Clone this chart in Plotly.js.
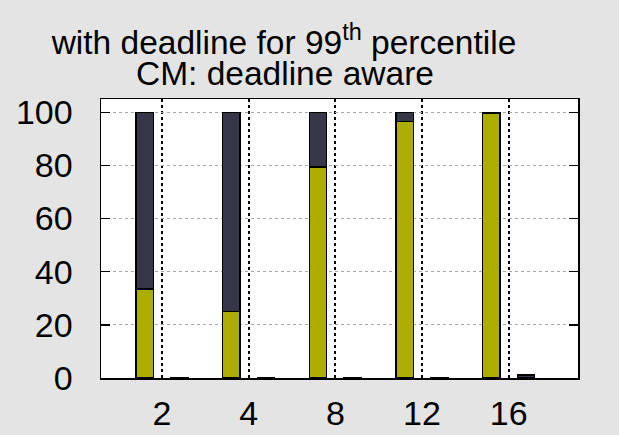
<!DOCTYPE html>
<html>
<head>
<meta charset="utf-8">
<script src="https://cdn.plot.ly/plotly-3.0.1.min.js"></script>
<style>
  html, body { margin: 0; padding: 0; background: #e3e4e3; }
  #chart { width: 619px; height: 435px; }
</style>
</head>
<body>
<div id="chart"></div>
<script>
// Number of cores per configuration (x-axis groups)
const categories = ['2', '4', '8', '12', '16'];
// Share of requests that met the deadline (%)
const metDeadline = [33.5, 25, 79.5, 96.5, 99.5];
// Share of requests that missed the deadline (%)
const missedDeadline = [66.5, 75, 20.5, 3.5, 0.5];
// Second bar of each group (baseline run)
const baseline = [0.2, 0.2, 0.2, 0.2, 1.2];

const yTicks = [0, 20, 40, 60, 80, 100];

const yellow = '#adad00';
const dark = '#37374a';
const idx = categories.map((c, i) => i);
const barW = 0.2;

const outline = { color: '#000000', width: 1.5 };

const traces = [
  {
    type: 'bar', name: 'met',
    x: idx.map(i => i - 0.2), y: metDeadline, width: barW,
    marker: { color: yellow, line: outline }
  },
  {
    type: 'bar', name: 'missed',
    x: idx.map(i => i - 0.2), y: missedDeadline, width: barW,
    marker: { color: dark, line: outline }
  },
  {
    type: 'bar', name: 'baseline',
    x: idx.map(i => i + 0.2), y: baseline, width: barW,
    marker: { color: dark, line: outline }
  }
];

const font = 'Liberation Sans, Arial, Helvetica, sans-serif';

const layout = {
  width: 619, height: 435,
  paper_bgcolor: '#e3e4e3',
  plot_bgcolor: '#ffffff',
  showlegend: false,
  barmode: 'stack',
  margin: { l: 101, r: 41, t: 99, b: 57, pad: 0 },
  font: { family: font, color: '#000000' },
  title: {
    text: 'with deadline for 99<sup>th</sup> percentile',
    font: { family: font, size: 33.5, color: '#000000' },
    x: 284 / 619, xanchor: 'center',
    y: 1 - 42 / 435, yanchor: 'middle'
  },
  annotations: [{
    text: 'CM: deadline aware',
    xref: 'paper', yref: 'paper',
    x: (285 - 101) / 478, y: (378 - 74) / 279,
    xanchor: 'center', yanchor: 'middle',
    showarrow: false,
    font: { family: font, size: 33.5, color: '#000000' }
  }],
  xaxis: {
    range: [-0.704, 4.80],
    tickmode: 'array',
    tickvals: idx,
    ticktext: categories,
    ticks: '',
    tickfont: { family: font, size: 34, color: '#000000' },
    ticklabelstandoff: 5,
    showgrid: true,
    gridcolor: '#000000',
    griddash: 'dot',
    gridwidth: 2,
    showline: true, mirror: true,
    linecolor: '#000000', linewidth: 1.5,
    zeroline: false
  },
  yaxis: {
    range: [0, 105],
    tickmode: 'array',
    tickvals: yTicks,
    ticktext: yTicks.map(String),
    ticks: 'inside', ticklen: 9, tickwidth: 1.5, tickcolor: '#000000',
    tickfont: { family: font, size: 34, color: '#000000' },
    ticklabelstandoff: 20,
    showgrid: true,
    gridcolor: '#a8a8a8',
    griddash: 'dot',
    gridwidth: 1,
    showline: true, mirror: 'ticks',
    linecolor: '#000000', linewidth: 1.5,
    zeroline: false
  }
};

Plotly.newPlot('chart', traces, layout, { displayModeBar: false, staticPlot: true });
</script>
</body>
</html>
